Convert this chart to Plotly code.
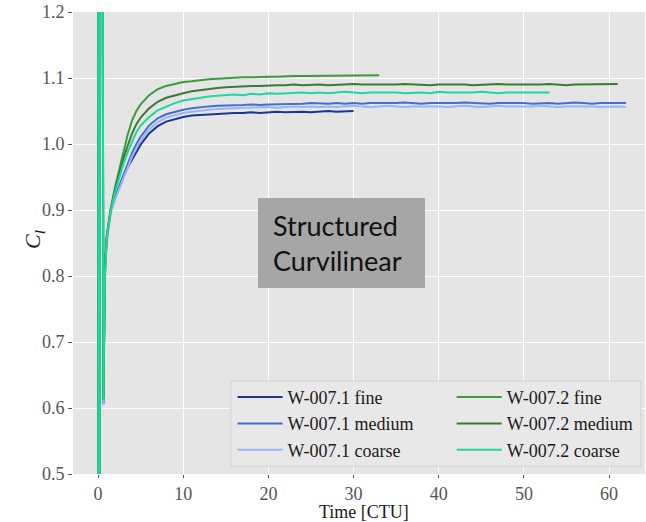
import plotly.graph_objects as go

# Shared time grid [CTU]: dense through the start-up transient, then every 1 CTU
time_ctu = [0.0, 0.05, 0.12, 0.2, 0.3, 0.62, 0.8, 1.0, 1.2, 1.5, 2.0, 2.5, 3.0, 3.5, 4.0, 4.5, 5.0] + \
    [6, 7, 8, 9, 10, 11, 12, 13, 14, 15, 16, 17, 18, 19, 20, 21, 22, 23, 24, 25,
     26, 27, 28, 29, 30, 31, 32, 33, 34, 35, 36, 37, 38, 39, 40, 41, 42, 43, 44, 45,
     46, 47, 48, 49, 50, 51, 52, 53, 54, 55, 56, 57, 58, 59, 60, 61, 62]

# Lift coefficient histories
cl_w0071_fine = [4.0, 0.2, 4.0, 0.3, 4.0, 0.607, 0.80, 0.852, 0.872, 0.899, 0.918, 0.935, 0.951, 0.965, 0.977, 0.989, 0.999,
                 1.016, 1.027, 1.034, 1.038, 1.041, 1.043, 1.044, 1.045, 1.046, 1.046, 1.047, 1.047, 1.048, 1.047, 1.048,
                 1.049, 1.048, 1.049, 1.049, 1.048, 1.049, 1.050, 1.049, 1.049, 1.050]
cl_w0071_medium = [4.0, 0.2, 4.0, 0.3, 4.0, 0.607, 0.80, 0.853, 0.873, 0.900, 0.920, 0.937, 0.953, 0.970, 0.987, 1.000, 1.011,
                   1.028, 1.039, 1.045, 1.049, 1.052, 1.054, 1.056, 1.057, 1.058, 1.058, 1.059, 1.059, 1.060, 1.059, 1.060,
                   1.060, 1.061, 1.060, 1.061, 1.062, 1.061, 1.061, 1.062, 1.061, 1.062, 1.061, 1.062, 1.062, 1.061, 1.062,
                   1.063, 1.062, 1.061, 1.062, 1.062, 1.061, 1.062, 1.063, 1.062, 1.062, 1.061, 1.062, 1.062, 1.063, 1.062,
                   1.061, 1.062, 1.062, 1.061, 1.062, 1.063, 1.062, 1.061, 1.062, 1.062, 1.063, 1.062]
cl_w0071_coarse = [4.0, 0.2, 4.0, 0.3, 4.0, 0.605, 0.79, 0.848, 0.869, 0.896, 0.916, 0.933, 0.949, 0.965, 0.981, 0.994, 1.005,
                   1.022, 1.033, 1.040, 1.044, 1.047, 1.049, 1.051, 1.052, 1.053, 1.054, 1.054, 1.055, 1.055, 1.056, 1.056,
                   1.055, 1.056, 1.057, 1.056, 1.057, 1.056, 1.057, 1.056, 1.057, 1.058, 1.057, 1.056, 1.057, 1.058, 1.057,
                   1.056, 1.057, 1.057, 1.058, 1.057, 1.056, 1.057, 1.058, 1.057, 1.056, 1.057, 1.058, 1.057, 1.057, 1.056,
                   1.057, 1.058, 1.057, 1.056, 1.057, 1.057, 1.058, 1.057, 1.056, 1.057, 1.057, 1.056]
cl_w0072_fine = [4.0, 0.2, 4.0, 0.3, 4.0, 0.615, 0.81, 0.858, 0.877, 0.903, 0.935, 0.963, 0.990, 1.015, 1.036, 1.050, 1.060,
                 1.074, 1.083, 1.088, 1.091, 1.094, 1.095, 1.097, 1.098, 1.099, 1.100, 1.100, 1.101, 1.101, 1.102, 1.102,
                 1.102, 1.103, 1.103, 1.103, 1.103, 1.104, 1.103, 1.104, 1.104, 1.104, 1.104, 1.104, 1.104]
cl_w0072_medium = [4.0, 0.2, 4.0, 0.3, 4.0, 0.614, 0.81, 0.857, 0.876, 0.902, 0.930, 0.956, 0.979, 0.998, 1.016, 1.030, 1.040,
                   1.054, 1.064, 1.070, 1.074, 1.077, 1.080, 1.082, 1.084, 1.085, 1.086, 1.087, 1.087, 1.088, 1.088, 1.089,
                   1.089, 1.089, 1.090, 1.089, 1.090, 1.090, 1.089, 1.090, 1.090, 1.091, 1.090, 1.090, 1.089, 1.090, 1.090,
                   1.091, 1.090, 1.090, 1.089, 1.090, 1.090, 1.091, 1.090, 1.089, 1.090, 1.090, 1.091, 1.090, 1.090, 1.089,
                   1.090, 1.090, 1.091, 1.090, 1.089, 1.090, 1.090, 1.091, 1.090, 1.090, 1.091]
cl_w0072_coarse = [4.0, 0.2, 4.0, 0.3, 4.0, 0.612, 0.80, 0.855, 0.874, 0.900, 0.927, 0.950, 0.971, 0.988, 1.004, 1.018, 1.028,
                   1.041, 1.051, 1.057, 1.062, 1.066, 1.068, 1.071, 1.072, 1.073, 1.074, 1.075, 1.074, 1.076, 1.075, 1.077,
                   1.076, 1.077, 1.077, 1.078, 1.077, 1.078, 1.077, 1.078, 1.079, 1.078, 1.077, 1.078, 1.078, 1.079, 1.078,
                   1.077, 1.078, 1.078, 1.077, 1.079, 1.078, 1.078, 1.077, 1.078, 1.079, 1.078, 1.077, 1.078, 1.078, 1.079,
                   1.078, 1.078, 1.078]

series = [
    ("W-007.1 fine", cl_w0071_fine, "#1c3593", "legend"),
    ("W-007.1 medium", cl_w0071_medium, "#416fd2", "legend"),
    ("W-007.1 coarse", cl_w0071_coarse, "#98b6f2", "legend"),
    ("W-007.2 fine", cl_w0072_fine, "#3a9d3a", "legend2"),
    ("W-007.2 medium", cl_w0072_medium, "#3b7a33", "legend2"),
    ("W-007.2 coarse", cl_w0072_coarse, "#1ed69e", "legend2"),
]

SERIF = "Liberation Serif, Times New Roman, serif"

fig = go.Figure()
for name, vals, color, leg in series:
    fig.add_trace(go.Scatter(
        x=time_ctu[:len(vals)], y=vals, mode="lines", name=name,
        line=dict(color=color, width=2), legend=leg, legendgroup=name,
    ))

legend_style = dict(
    bgcolor="rgba(0,0,0,0)", borderwidth=0,
    font=dict(family=SERIF, size=18, color="#1a1a1a"),
    xanchor="left", yanchor="top", tracegroupgap=0, itemwidth=45,
)

fig.update_layout(
    width=646, height=522,
    margin=dict(l=73, r=1, t=12, b=48),
    paper_bgcolor="white", plot_bgcolor="#e5e5e5",
    showlegend=True,
    legend=dict(x=0.279, y=0.206, **legend_style),
    legend2=dict(x=0.662, y=0.206, **legend_style),
    xaxis=dict(
        range=[-2.94, 64.22], tickvals=[0, 10, 20, 30, 40, 50, 60],
        showgrid=True, gridcolor="white", gridwidth=1, zeroline=False,
        ticks="outside", ticklen=3, tickcolor="#555555", automargin=False,
        tickfont=dict(family=SERIF, size=18, color="#555555"),
    ),
    yaxis=dict(
        range=[0.5, 1.2], tickvals=[0.5, 0.6, 0.7, 0.8, 0.9, 1.0, 1.1, 1.2], tickformat=".1f",
        showgrid=True, gridcolor="white", gridwidth=1, zeroline=False,
        ticks="outside", ticklen=4, tickcolor="#555555", automargin=False,
        tickfont=dict(family=SERIF, size=18, color="#555555"),
    ),
)

# Axis labels
fig.add_annotation(
    xref="paper", yref="paper", x=(364 - 73) / 572, y=(474 - 512) / 462,
    xanchor="center", yanchor="middle", showarrow=False,
    text="Time [CTU]", font=dict(family=SERIF, size=18, color="#1a1a1a"),
)
fig.add_annotation(
    xref="paper", yref="paper", x=(34 - 73) / 572, y=(474 - 240) / 462,
    xanchor="center", yanchor="middle", showarrow=False, textangle=-90,
    text="<i>C</i><sub><i>l</i></sub>",
    font=dict(family=SERIF, size=22, color="#1a1a1a"),
)

# Legend frame spanning both legend columns
fig.add_shape(
    type="rect", xref="paper", yref="paper",
    x0=0.276, x1=0.993, y0=0.017, y1=0.201,
    fillcolor="#e8e8e8", line=dict(color="#d2d2d2", width=1), layer="above",
)

# Mesh-type label
fig.add_shape(
    type="rect", xref="paper", yref="paper",
    x0=(258 - 73) / 572, x1=(425 - 73) / 572,
    y0=(474 - 288) / 462, y1=(474 - 198) / 462,
    fillcolor="#a6a6a6", line=dict(width=0), layer="above",
)
fig.add_annotation(
    xref="paper", yref="paper", x=(271 - 73) / 572, y=(474 - 243) / 462,
    xanchor="left", yanchor="middle", align="left", showarrow=False,
    text="Structured<br>Curvilinear",
    font=dict(family="Lato, Carlito, sans-serif", size=27, color="#111111"),
)

fig.write_html("out.html")
